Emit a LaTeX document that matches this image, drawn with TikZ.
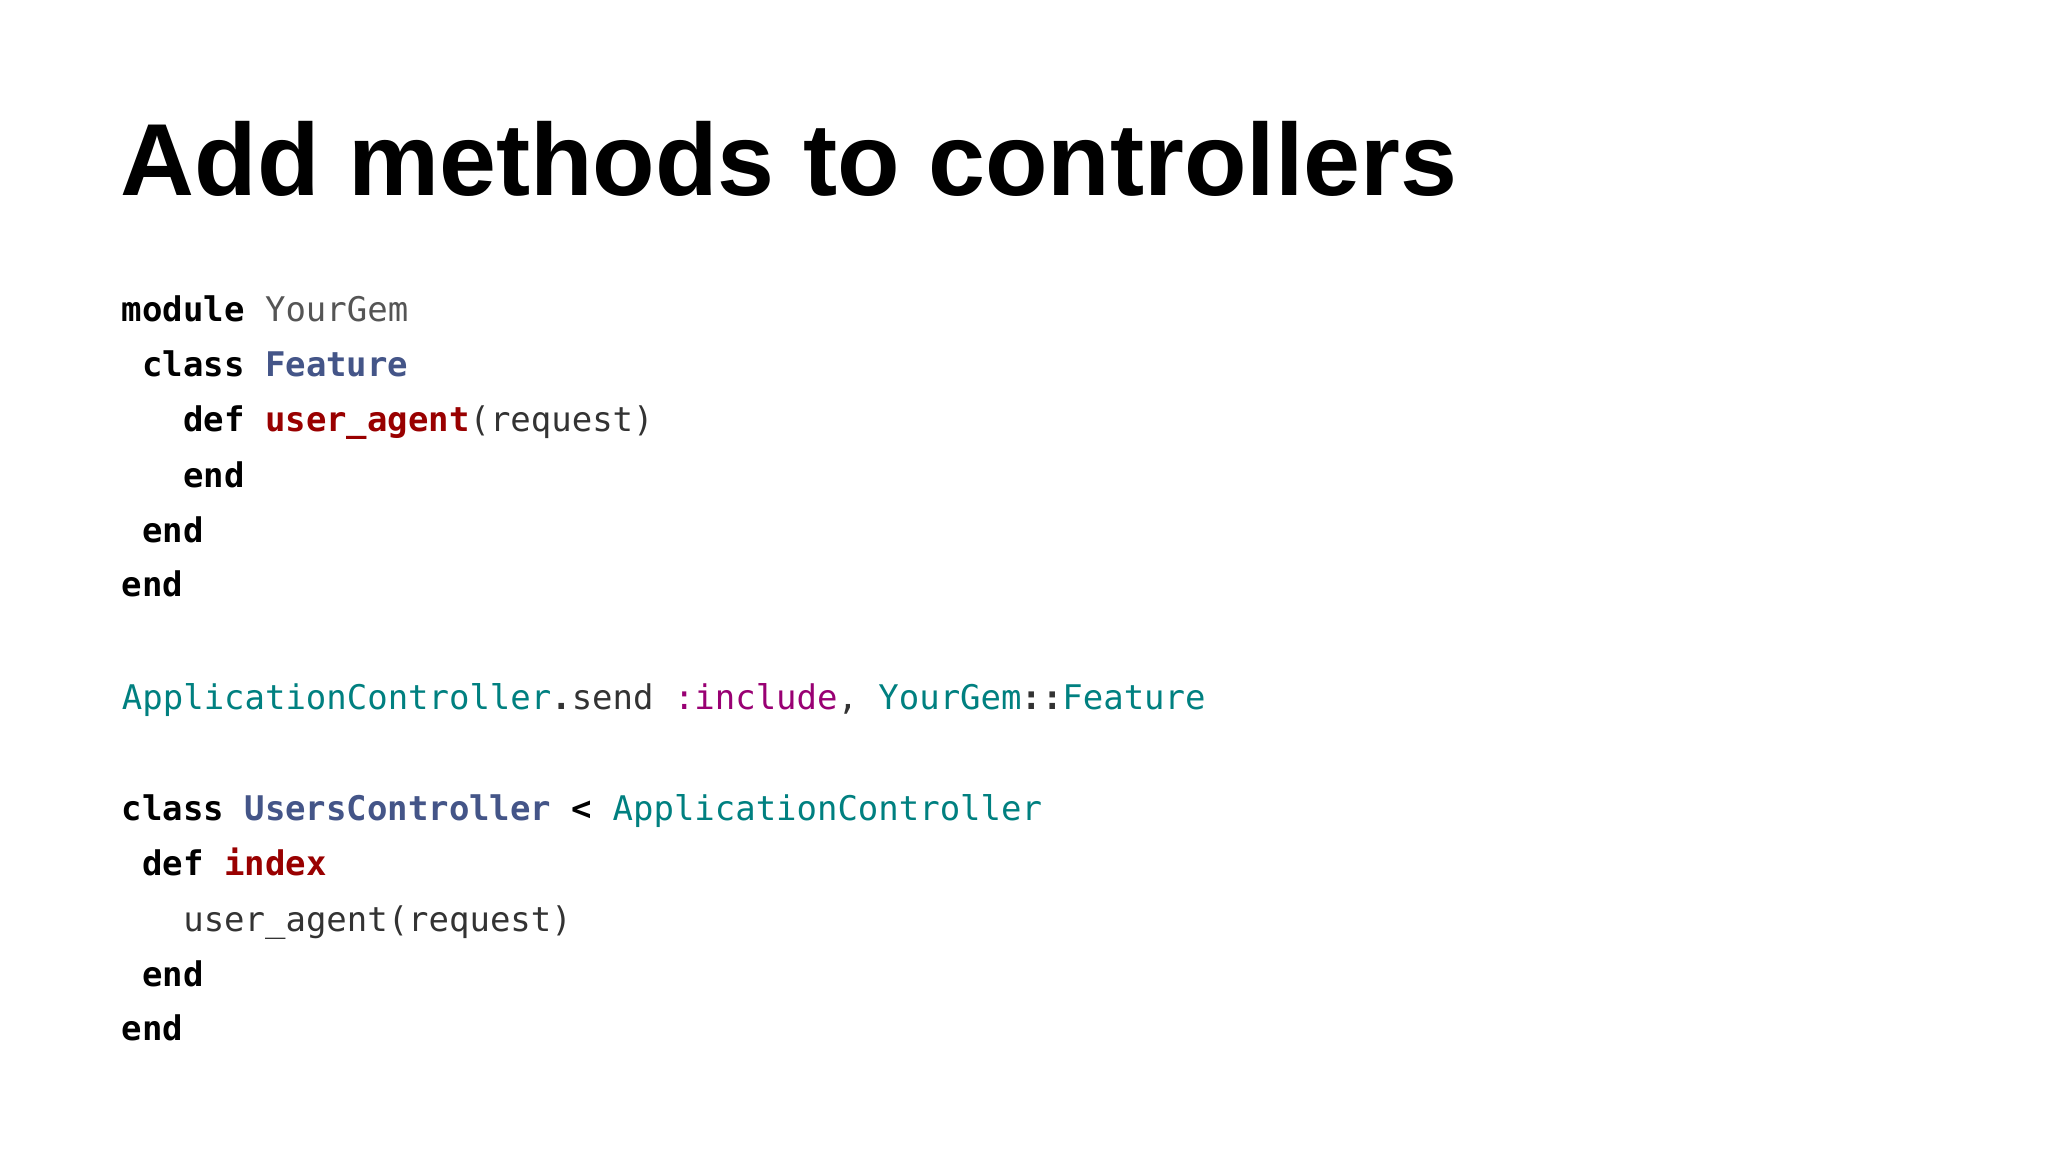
\documentclass[tikz,border=0pt]{standalone}
\usepackage{fontspec}
\setmainfont{Liberation Sans}
\newfontfamily\codefont{DejaVu Sans Mono}
\definecolor{kgray}{HTML}{555555}
\definecolor{kblue}{HTML}{445588}
\definecolor{kred}{HTML}{990000}
\definecolor{kteal}{HTML}{008080}
\definecolor{kpurp}{HTML}{990073}
\definecolor{ktext}{HTML}{333333}
\tikzset{code/.style={anchor=base west,inner sep=0pt,font=\codefont\fontsize{13}{13}\selectfont,text=ktext}}
\newcommand{\kw}[1]{\textbf{\color{black}#1}}
\begin{document}
\begin{tikzpicture}[x=0.5pt,y=-0.5pt]
\useasboundingbox (0,0) rectangle (1568,882);
\fill[white] (0,0) rectangle (1568,882);
\node[anchor=base west,inner sep=0pt,font=\bfseries\fontsize{39.2}{39.2}\selectfont] (title) at (92,150) {Add methods to controllers};
\def\cw{15.66}
\node[code] (l1) at (93,246) {\kw{module} {\color{kgray}YourGem}};
\node[code] (l2) at (93+\cw,288) {\kw{class} \textbf{\color{kblue}Feature}};
\node[code] (l3) at (93+3*\cw,330) {\kw{def} \textbf{\color{kred}user\_agent}(request)};
\node[code] (l4) at (93+3*\cw,373) {\kw{end}};
\node[code] (l5) at (93+\cw,415) {\kw{end}};
\node[code] (l6) at (93,457) {\kw{end}};
\node[code] (l7) at (93,543) {{\color{kteal}ApplicationController}\textbf{.}send {\color{kpurp}:include}, {\color{kteal}YourGem}\textbf{::}{\color{kteal}Feature}};
\node[code] (l8) at (93,628) {\kw{class} \textbf{\color{kblue}UsersController} \kw{<} {\color{kteal}ApplicationController}};
\node[code] (l9) at (93+\cw,670) {\kw{def} \textbf{\color{kred}index}};
\node[code] (l10) at (93+3*\cw,713) {user\_agent(request)};
\node[code] (l11) at (93+\cw,755) {\kw{end}};
\node[code] (l12) at (93,797) {\kw{end}};
\end{tikzpicture}
\end{document}
